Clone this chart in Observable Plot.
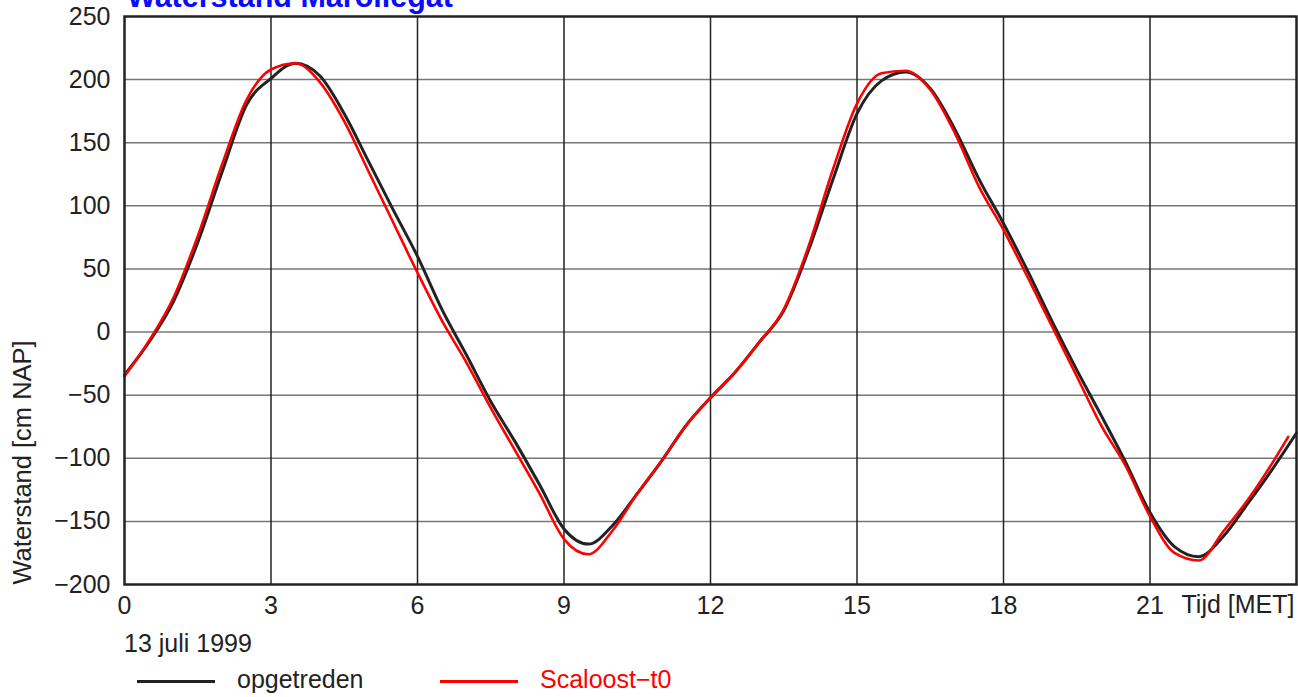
<!DOCTYPE html>
<html>
<head>
<meta charset="utf-8">
<script src="https://cdn.jsdelivr.net/npm/d3@7"></script>
<script src="https://cdn.jsdelivr.net/npm/@observablehq/plot@0.6"></script>
<style>
  html, body { margin: 0; padding: 0; background: #fff; overflow: hidden; }
  #wrap { position: relative; width: 1298px; height: 697px; font-family: "Liberation Sans", Arial, sans-serif; color: #222; }
  .abs { position: absolute; white-space: nowrap; font-size: 25px; line-height: 25px; }
  #title { left: 127px; top: -19px; font-size: 30.5px; line-height: 30px; font-weight: bold; color: #0a0aff; }
  .swatch { position: absolute; width: 78px; height: 3px; }
  #chart { position: absolute; left: 0; top: 0; }
</style>
</head>
<body>
<div id="wrap">
  <div id="chart"></div>
  <div id="title" class="abs">Waterstand Marollegat</div>
  <div class="abs" style="left:124px; top:631px;">13 juli 1999</div>
  <div class="swatch" style="left:137px; top:680px; background:#222;"></div>
  <div class="abs" style="left:237px; top:667px;">opgetreden</div>
  <div class="swatch" style="left:440px; top:680px; background:#ff0000;"></div>
  <div class="abs" style="left:540px; top:667px; color:#ff0000;">Scaloost−t0</div>
</div>
<script>
// Hours after 00:00 MET, 13 juli 1999
const hoursObserved = [0,0.5,1,1.5,2,2.5,3,3.5,4,4.5,5,5.5,6,6.5,7,7.5,8,8.5,9,9.5,10,10.5,11,11.5,12,12.5,13,13.5,14,14.5,15,15.5,16,16.5,17,17.5,18,18.5,19,19.5,20,20.5,21,21.5,22,22.5,23,23.5,24];
const opgetreden = [-34,-8,24,71,127,180,201,213,203,173,135,97,60,18,-18,-55,-87,-121,-156,-168,-153,-128,-102,-74,-52,-32,-8,17,64,120,173,199,206,193,161,121,86,48,8,-30,-66,-103,-143,-170,-178,-162,-136,-109,-80];

const hoursModel = [0,0.5,1,1.5,2,2.5,3,3.5,4,4.5,5,5.5,6,6.5,7,7.5,8,8.5,9,9.5,10,10.5,11,11.5,12,12.5,13,13.5,14,14.5,15,15.5,16,16.5,17,17.5,18,18.5,19,19.5,20,20.5,21,21.5,22,22.5,23,23.5,23.83];
const scaloost = [-35,-7,27,76,133,184,208,213,198,167,127,87,47,9,-24,-60,-94,-128,-164,-176,-157,-128,-102,-74,-52,-32,-8,18,67,128,181,205,207,192,158,115,81,43,4,-35,-74,-106,-146,-175,-181,-158,-133,-104,-83];

const xTicks = [0,3,6,9,12,15,18,21];
const xGrid = [3,6,9,12,15,18,21];
const yTicks = [-200,-150,-100,-50,0,50,100,150,200,250];
const yGrid = [-150,-100,-50,0,50,100,150,200];

const obs = hoursObserved.map((t, i) => ({t, v: opgetreden[i]}));
const mod = hoursModel.map((t, i) => ({t, v: scaloost[i]}));

const chart = Plot.plot({
  width: 1298,
  height: 620,
  marginLeft: 124,
  marginRight: 2,
  marginTop: 16,
  marginBottom: 36,
  style: {fontFamily: "'Liberation Sans', Arial, sans-serif", fontSize: "25px", color: "#222", background: "#fff"},
  x: {domain: [0, 24], ticks: xTicks, tickSize: 0, tickPadding: 12, label: null},
  y: {domain: [-200, 250], ticks: yTicks, tickSize: 0, tickPadding: 14, label: null},
  marks: [
    Plot.ruleY(yGrid, {stroke: "#777", strokeWidth: 1.5}),
    Plot.ruleX(xGrid, {stroke: "#222", strokeWidth: 1.5}),
    Plot.line(obs, {x: "t", y: "v", stroke: "#222", strokeWidth: 3, curve: "monotone-x"}),
    Plot.line(mod, {x: "t", y: "v", stroke: "#ff0000", strokeWidth: 2.6, curve: "monotone-x"}),
    Plot.frame({stroke: "#222", strokeWidth: 2.5}),
    Plot.text(["Waterstand [cm NAP]"], {frameAnchor: "bottom-left", rotate: -90, textAnchor: "start", lineAnchor: "middle", dx: -102, fontSize: 25.5, fill: "#222"}),
    Plot.text(["Tijd [MET]"], {frameAnchor: "bottom-right", textAnchor: "end", lineAnchor: "top", dy: 11, dx: -2, fontSize: 25, fill: "#222"})
  ]
});
document.getElementById("chart").appendChild(chart);
</script>
</body>
</html>
